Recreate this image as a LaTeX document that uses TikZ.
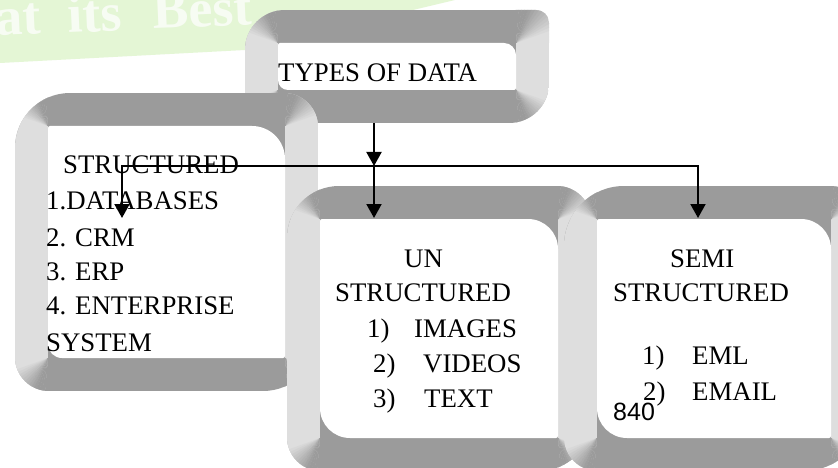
\documentclass[tikz,border=0pt]{standalone}
\usepackage{fontspec}
\setmainfont{Liberation Serif}
\newfontfamily\digitfont{Liberation Sans}
\usetikzlibrary{arrows.meta}

\definecolor{facetdark}{HTML}{9B9B9B}
\definecolor{facetlight}{HTML}{DEDEDE}
\definecolor{wmgreen}{HTML}{E4F6D5}
\definecolor{wmtext}{HTML}{F7FCF3}

\def\facetw{33}

% outline with individual corner radii: left, top, right, bottom, rTL, rTR, rBR, rBL
\newcommand\roundedoutline[8]{({#1+#5},{#2}) -- ({#3-#6},{#2}) arc[start angle=270,end angle=360,radius=#6] -- ({#3},{#4-#7}) arc[start angle=0,end angle=90,radius=#7] -- ({#1+#8},{#4}) arc[start angle=90,end angle=180,radius=#8] -- ({#1},{#2+#5}) arc[start angle=180,end angle=270,radius=#5] -- cycle}

% fan of wedges blending a light facet (direction u) into a dark facet (direction v)
% around a corner of the face: centre x, centre y, ux, uy, vx, vy
\newcommand\cornerfan[6]{%
  \foreach \k in {0,...,17}{%
    \pgfmathsetmacro\angA{5*\k}%
    \pgfmathsetmacro\angB{5*\k+5.6}%
    \pgfmathsetmacro\shadeamt{min(100,max(0,(5*\k+2.5-18)*1.9))}%
    \fill[facetdark!\shadeamt!facetlight]
      ({#1},{#2})
      -- ({#1+200*(cos(\angA)*(#3)+sin(\angA)*(#5))},{#2+200*(cos(\angA)*(#4)+sin(\angA)*(#6))})
      -- ({#1+200*(cos(\angB)*(#3)+sin(\angB)*(#5))},{#2+200*(cos(\angB)*(#4)+sin(\angB)*(#6))})
      -- cycle;
  }%
}

% bevelled panel: left, top, right, bottom, big outer radius, small outer radius, face radius TR, face radius BL
\newcommand\bevelbox[8]{%
  \begin{scope}
    \clip \roundedoutline{#1}{#2}{#3}{#4}{#5}{#6}{#5}{#6};
    \fill[facetdark] (#1,#2) rectangle (#3,#4);
    \fill[facetlight] (#1,#2) rectangle ({#1+\facetw},#4);
    \fill[facetlight] ({#3-\facetw},#2) rectangle (#3,#4);
    \cornerfan{#1+\facetw}{#2+\facetw}{-1}{0}{0}{-1}
    \cornerfan{#3-\facetw}{#2+\facetw}{1}{0}{0}{-1}
    \cornerfan{#3-\facetw}{#4-\facetw}{1}{0}{0}{1}
    \cornerfan{#1+\facetw}{#4-\facetw}{-1}{0}{0}{1}
  \end{scope}
  \fill[white] \roundedoutline{#1+\facetw}{#2+\facetw}{#3-\facetw}{#4-\facetw}{2}{#7}{2}{#8};
}

\begin{document}
\begin{tikzpicture}[x=1pt,y=-1pt,
  txt/.style={anchor=base west, inner sep=0pt, font=\fontsize{26.8}{30}\selectfont},
  pagenum/.style={anchor=base west, inner sep=0pt, font=\digitfont\fontsize{25}{28}\selectfont},
  wm/.style={anchor=base west, inner sep=0pt, text=wmtext, font=\bfseries\fontsize{54}{58}\selectfont, rotate=2.5},
  link/.style={line width=2pt, draw=black},
  arrowed/.style={link, -{Triangle[length=14pt,width=15pt]}}]
\useasboundingbox (0,0) rectangle (838,468);
\clip (0,0) rectangle (838,468);
\fill[white] (0,0) rectangle (838,468);

% faded banner in the corner
\fill[wmgreen] (0,0) -- (455,0) -- (245,50) -- (0,63) -- cycle;
\node[wm] (wmat) at (-4,36) {at};
\node[wm] (wmits) at (68,33) {its};
\node[wm] (wmbest) at (153,29) {Best};

% panels, back to front
\bevelbox{245}{10}{549}{123}{40}{13}{12}{10}
\bevelbox{15}{93}{318}{391}{55}{34}{33}{14}
\bevelbox{287}{186}{591}{471}{52}{34}{30}{30}
\bevelbox{564}{186}{864}{471}{60}{34}{30}{30}

% title panel
\node[txt] (types) at (278,82) {TYPES OF DATA};

% structured data
\node[txt] (structhead) at (63,174) {STRUCTURED};
\node[txt] (db) at (46,209) {1.DATABASES};
\node[txt] (crm) at (46,246) {2. CRM};
\node[txt] (erp) at (46,280) {3. ERP};
\node[txt] (ent) at (46,314) {4. ENTERPRISE};
\node[txt] (sys) at (46,351) {SYSTEM};

% unstructured data
\node[txt] (unhead) at (404,267) {UN};
\node[txt] (unhead2) at (335,301) {STRUCTURED};
\node[txt] (unn1) at (367,337) {1)};
\node[txt] (img) at (414,337) {IMAGES};
\node[txt] (unn2) at (373,372) {2)};
\node[txt] (vid) at (423,372) {VIDEOS};
\node[txt] (unn3) at (373,407) {3)};
\node[txt] (txt) at (424,407) {TEXT};

% semi-structured data
\node[txt] (semihead) at (670,267) {SEMI};
\node[txt] (semihead2) at (613,301) {STRUCTURED};
\node[txt] (sen1) at (642,364) {1)};
\node[txt] (eml) at (692,364) {EML};
\node[txt] (sen2) at (643,400) {2)};
\node[txt] (email) at (692,400) {EMAIL};
\node[pagenum] (page) at (613,420) {840};

% connectors
\coordinate (typesout) at (374,123);
\coordinate (hub) at (374,166);
\coordinate (structin) at (122,218);
\coordinate (unin) at (374,218);
\coordinate (semiin) at (698,218);
\draw[arrowed] (typesout) -- (hub);
\draw[arrowed] (hub) -| (structin);
\draw[arrowed] (hub) -- (unin);
\draw[arrowed] (hub) -| (semiin);
\end{tikzpicture}
\end{document}
